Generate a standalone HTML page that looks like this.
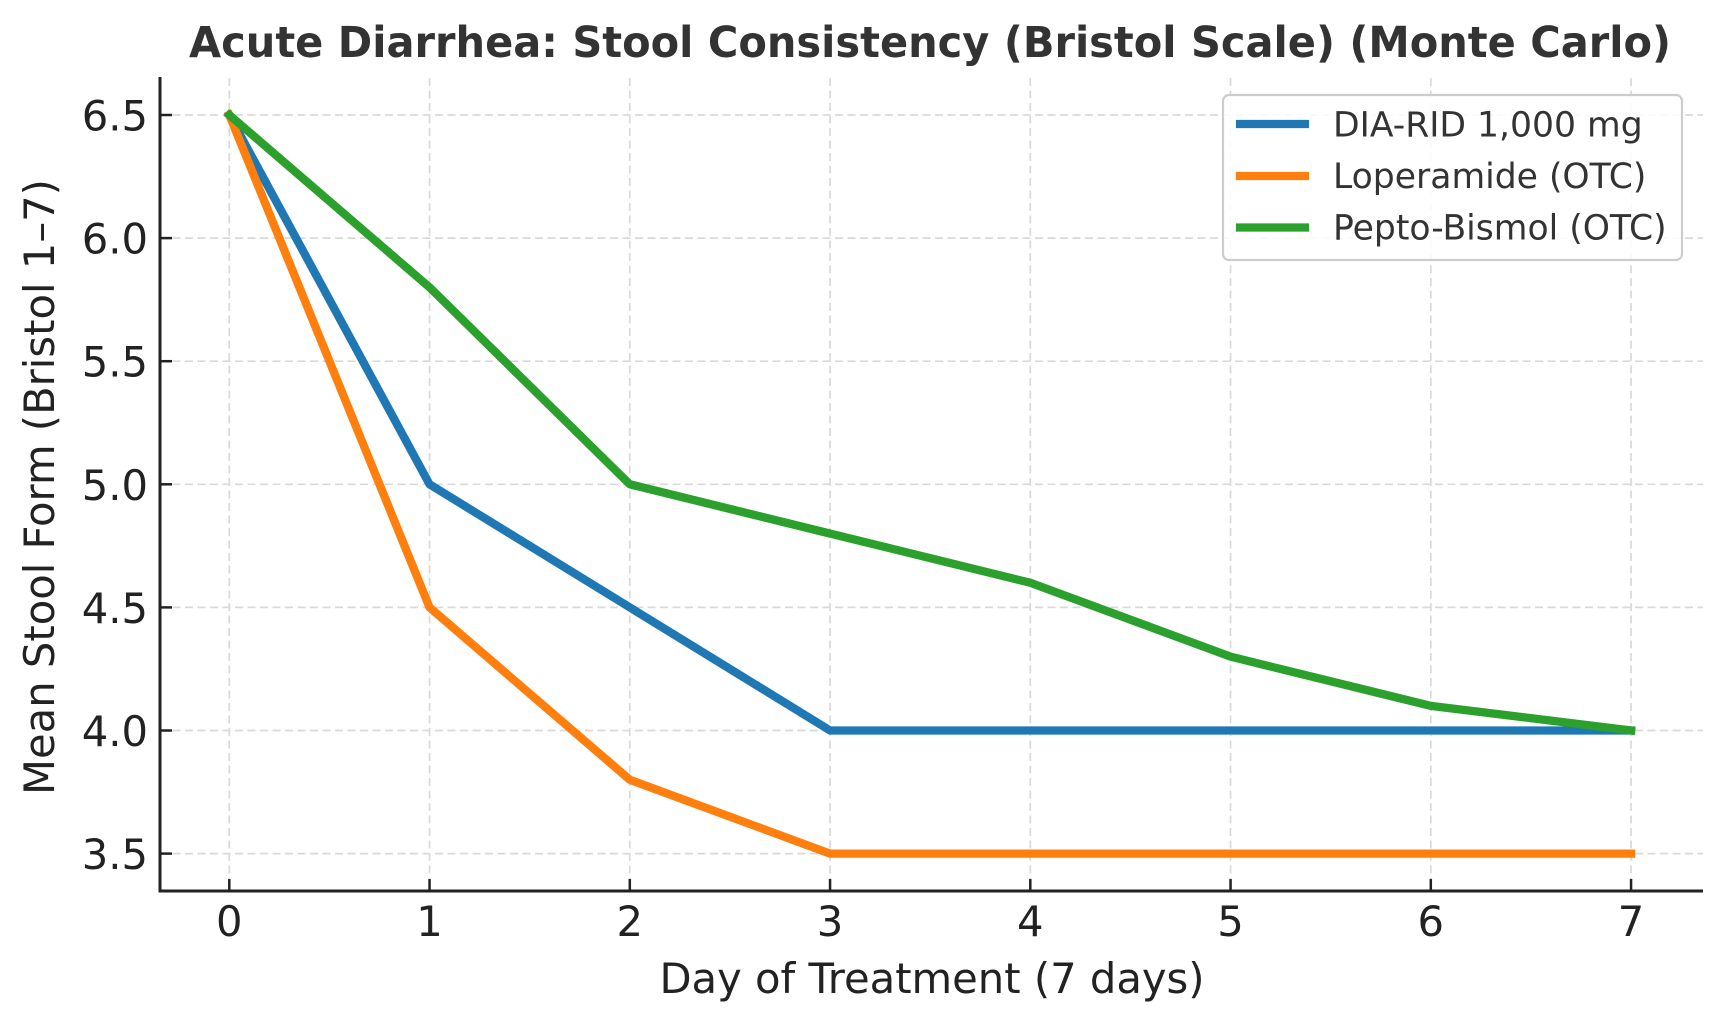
<!DOCTYPE html>
<html>
<head>
<meta charset="utf-8">
<style>
html,body{margin:0;padding:0;background:#fff;}
svg{display:block;}
text{font-family:"DejaVu Sans","Liberation Sans",sans-serif;}
</style>
</head>
<body>
<svg width="1725" height="1026" viewBox="0 0 1725 1026" xmlns="http://www.w3.org/2000/svg">
<rect x="0" y="0" width="1725" height="1026" fill="#fff"/>

<!-- Title -->
<text x="930" y="57" text-anchor="middle" font-size="43" font-weight="bold" fill="#333" textLength="1482" lengthAdjust="spacingAndGlyphs">Acute Diarrhea: Stool Consistency (Bristol Scale) (Monte Carlo)</text>

<!-- Grid -->
<g stroke="#d9d9d9" stroke-width="1.7" stroke-dasharray="8,4.5" fill="none">
  <line x1="229.3" y1="78" x2="229.3" y2="891"/>
  <line x1="429.55" y1="78" x2="429.55" y2="891"/>
  <line x1="629.8" y1="78" x2="629.8" y2="891"/>
  <line x1="830.05" y1="78" x2="830.05" y2="891"/>
  <line x1="1030.3" y1="78" x2="1030.3" y2="891"/>
  <line x1="1230.55" y1="78" x2="1230.55" y2="891"/>
  <line x1="1430.8" y1="78" x2="1430.8" y2="891"/>
  <line x1="1631.05" y1="78" x2="1631.05" y2="891"/>
  <line x1="160" y1="115" x2="1703" y2="115"/>
  <line x1="160" y1="238.1" x2="1703" y2="238.1"/>
  <line x1="160" y1="361.2" x2="1703" y2="361.2"/>
  <line x1="160" y1="484.3" x2="1703" y2="484.3"/>
  <line x1="160" y1="607.4" x2="1703" y2="607.4"/>
  <line x1="160" y1="730.5" x2="1703" y2="730.5"/>
  <line x1="160" y1="853.6" x2="1703" y2="853.6"/>
</g>

<!-- Series -->
<g fill="none" stroke-width="8.3" stroke-linejoin="round" stroke-linecap="square">
  <polyline stroke="#1f77b4" points="229.3,115 429.55,484.3 629.8,607.4 830.05,730.5 1030.3,730.5 1230.55,730.5 1430.8,730.5 1631.05,730.5"/>
  <polyline stroke="#ff7f0e" points="229.3,115 429.55,607.4 629.8,779.74 830.05,853.6 1030.3,853.6 1230.55,853.6 1430.8,853.6 1631.05,853.6"/>
  <polyline stroke="#2ca02c" points="229.3,115 429.55,287.34 629.8,484.3 830.05,533.54 1030.3,582.78 1230.55,656.64 1430.8,705.88 1631.05,730.5"/>
</g>

<!-- Spines -->
<g stroke="#222" stroke-width="3" fill="none">
  <line x1="160" y1="77" x2="160" y2="892.5"/>
  <line x1="158.5" y1="891" x2="1703" y2="891"/>
</g>

<!-- Ticks (inward) -->
<g stroke="#222" stroke-width="2.5">
  <line x1="229.3" y1="891" x2="229.3" y2="879"/>
  <line x1="429.55" y1="891" x2="429.55" y2="879"/>
  <line x1="629.8" y1="891" x2="629.8" y2="879"/>
  <line x1="830.05" y1="891" x2="830.05" y2="879"/>
  <line x1="1030.3" y1="891" x2="1030.3" y2="879"/>
  <line x1="1230.55" y1="891" x2="1230.55" y2="879"/>
  <line x1="1430.8" y1="891" x2="1430.8" y2="879"/>
  <line x1="1631.05" y1="891" x2="1631.05" y2="879"/>
  <line x1="160" y1="115" x2="172" y2="115"/>
  <line x1="160" y1="238.1" x2="172" y2="238.1"/>
  <line x1="160" y1="361.2" x2="172" y2="361.2"/>
  <line x1="160" y1="484.3" x2="172" y2="484.3"/>
  <line x1="160" y1="607.4" x2="172" y2="607.4"/>
  <line x1="160" y1="730.5" x2="172" y2="730.5"/>
  <line x1="160" y1="853.6" x2="172" y2="853.6"/>
</g>

<!-- Y tick labels -->
<g font-size="41.7" fill="#222" text-anchor="end">
  <text x="148" y="130.5">6.5</text>
  <text x="148" y="253.6">6.0</text>
  <text x="148" y="376.7">5.5</text>
  <text x="148" y="499.8">5.0</text>
  <text x="148" y="622.9">4.5</text>
  <text x="148" y="746">4.0</text>
  <text x="148" y="869.1">3.5</text>
</g>

<!-- X tick labels -->
<g font-size="41.7" fill="#222" text-anchor="middle">
  <text x="229.3" y="936">0</text>
  <text x="429.55" y="936">1</text>
  <text x="629.8" y="936">2</text>
  <text x="830.05" y="936">3</text>
  <text x="1030.3" y="936">4</text>
  <text x="1230.55" y="936">5</text>
  <text x="1430.8" y="936">6</text>
  <text x="1631.05" y="936">7</text>
</g>

<!-- Axis labels -->
<text x="932" y="993" font-size="41.7" fill="#222" text-anchor="middle">Day of Treatment (7 days)</text>
<text transform="translate(54,487) rotate(-90)" font-size="41.7" fill="#222" text-anchor="middle">Mean Stool Form (Bristol 1–7)</text>

<!-- Legend -->
<rect x="1223" y="95" width="459" height="165" rx="6" ry="6" fill="#fff" fill-opacity="0.85" stroke="#cccccc" stroke-width="2.2"/>
<g stroke-width="8.3">
  <line x1="1236" y1="124" x2="1309" y2="124" stroke="#1f77b4"/>
  <line x1="1236" y1="176" x2="1309" y2="176" stroke="#ff7f0e"/>
  <line x1="1236" y1="227.5" x2="1309" y2="227.5" stroke="#2ca02c"/>
</g>
<g font-size="34.6" fill="#333">
  <text x="1333" y="136.7">DIA-RID 1,000 mg</text>
  <text x="1333" y="188">Loperamide (OTC)</text>
  <text x="1333" y="239.5">Pepto-Bismol (OTC)</text>
</g>
</svg>
</body>
</html>
